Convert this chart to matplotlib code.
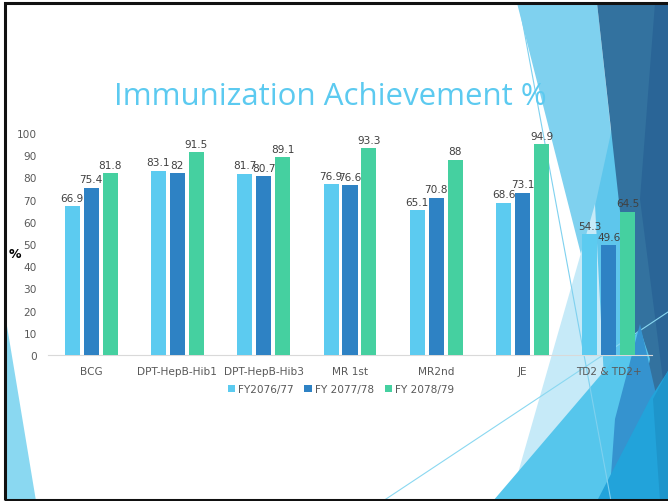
import numpy as np
import matplotlib
matplotlib.use("Agg")
import matplotlib.pyplot as plt
from matplotlib.patches import Polygon, Rectangle
from matplotlib.lines import Line2D

# data
categories = ["BCG", "DPT-HepB-Hib1", "DPT-HepB-Hib3", "MR 1st", "MR2nd", "JE", "TD2 & TD2+"]
series_names = ["FY2076/77", "FY 2077/78", "FY 2078/79"]
fy_7677 = [66.9, 83.1, 81.7, 76.9, 65.1, 68.6, 54.3]
fy_7778 = [75.4, 82, 80.7, 76.6, 70.8, 73.1, 49.6]
fy_7879 = [81.8, 91.5, 89.1, 93.3, 88, 94.9, 64.5]
series = [fy_7677, fy_7778, fy_7879]
colors = ["#5ccbf0", "#2e82c4", "#45d0a0"]

W, H = 668, 502
fig = plt.figure(figsize=(W / 100, H / 100), dpi=100)
fig.patch.set_facecolor("white")


def px(pts):
    # pixel coords (y down) -> figure fraction
    return [(x / W, 1 - y / H) for x, y in pts]


def poly(pts, color, alpha=1.0, z=0):
    fig.patches.append(Polygon(px(pts), closed=True, transform=fig.transFigure,
                               facecolor=color, edgecolor="none", alpha=alpha, zorder=z))


def line(p1, p2, color, lw=0.8, z=0.5):
    (x1, y1), (x2, y2) = px([p1, p2])
    fig.lines.append(Line2D([x1, x2], [y1, y2], transform=fig.transFigure,
                            color=color, lw=lw, zorder=z))


# slide decoration (facet triangles)
poly([(5, 315), (5, 502), (36, 502)], "#8ad8f1")
poly([(517, 4), (597, 4), (625, 260), (600, 330)], "#7fd1ef", z=0.02)
poly([(614, 120), (640, 400), (600, 400), (577, 290)], "#5ec6ec", z=0.03)
poly([(597, 4), (668, 4), (668, 502), (645, 502), (622, 230)], "#33729f", z=0.1)
poly([(655, 4), (668, 4), (668, 420), (640, 200)], "#2a6597", z=0.11)
poly([(510, 502), (595, 205), (605, 400), (640, 502)], "#c6eaf8", z=0.2)
line((383, 502), (668, 313), "#8ad8f1", z=0.25)
poly([(493, 502), (640, 330), (650, 360), (620, 502)], "#56c6ec", z=0.3)
poly([(640, 325), (656, 395), (610, 490), (615, 420)], "#3593cf", z=0.35)
poly([(597, 502), (650, 400), (668, 372), (668, 502)], "#22a3da", z=0.4)
poly([(668, 372), (653, 400), (660, 502), (668, 502)], "#1e95cb", z=0.45)
line((519, 4), (611, 502), "#7fd1ef", z=0.5)

# frame
fig.patches.append(Rectangle((5 / W, 0.002), 1, 1 - 4 / H - 0.002, transform=fig.transFigure,
                             facecolor="none", edgecolor="#111111", lw=2.2, zorder=5))

ax = fig.add_axes([48 / W, 1 - 356 / H, (652 - 48) / W, (356 - 134) / H])
ax.set_facecolor("none")
ax.set_zorder(2)

x = np.arange(len(categories))
bw = 0.174
offs = [-0.22, 0, 0.22]
for vals, c, o, name in zip(series, colors, offs, series_names):
    bars = ax.bar(x + o, vals, bw, color=c, label=name, zorder=3)
    for b, v in zip(bars, vals):
        ax.text(b.get_x() + b.get_width() / 2, v + 1.5, f"{v:g}", ha="center", va="bottom",
                fontsize=7.6, color="#404040", zorder=4)

ax.set_xlim(-0.5, len(categories) - 0.5)
ax.set_ylim(0, 100)
ax.set_yticks(range(0, 101, 10))
ax.set_xticks(x)
ax.set_xticklabels(categories)
for s in ["top", "right", "left"]:
    ax.spines[s].set_visible(False)
ax.spines["bottom"].set_color("#d9d9d9")
ax.tick_params(axis="both", length=0, labelsize=7.6, labelcolor="#595959")
ax.tick_params(axis="y", pad=8)
ax.tick_params(axis="x", pad=8)

fig.text(15 / W, 1 - 255 / H, "%", fontsize=9, fontweight="bold", ha="center", va="center")

fig.text(330 / W, 1 - 97 / H, "Immunization Achievement %", fontsize=22.5, color="#5ccaf0",
         ha="center", va="center", family="Open Sans")

fig.legend(loc="center", bbox_to_anchor=(341 / W, 1 - 390 / H), ncol=3, frameon=False,
           fontsize=7.6, labelcolor="#595959", handlelength=0.7, handleheight=0.7,
           handletextpad=0.3, columnspacing=1.0)

fig.savefig("out.png", dpi=100)
